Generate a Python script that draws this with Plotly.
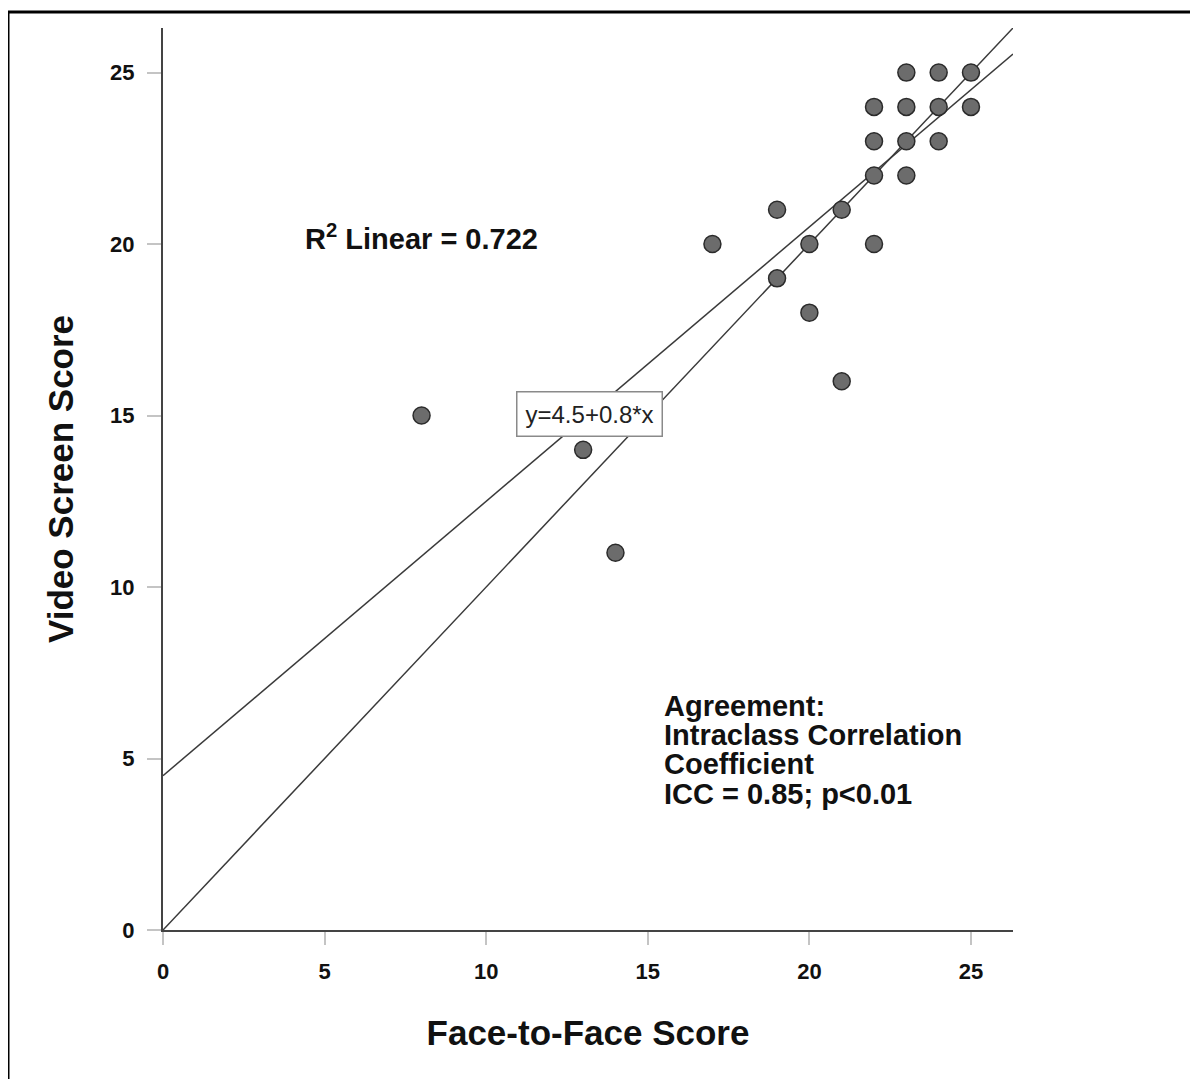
import plotly.graph_objects as go

# Data
face_to_face = [8, 13, 14, 17, 19, 19, 20, 20, 21, 21, 22, 22, 22, 22,
                23, 23, 23, 23, 24, 24, 24, 25, 25]
video_screen = [15, 14, 11, 20, 21, 19, 20, 18, 21, 16, 24, 23, 22, 20,
                25, 24, 23, 22, 25, 24, 23, 25, 24]
fit_intercept = 4.5
fit_slope = 0.8
tick_vals = [0, 5, 10, 15, 20, 25]
tick_labels = ["0", "5", "10", "15", "20", "25"]
agreement_lines = ["Agreement:", "Intraclass Correlation", "Coefficient",
                   "ICC = 0.85; p&lt;0.01"]
axis_max = 26.3

line_x = [0, axis_max]
fit_y = [fit_intercept + fit_slope * v for v in line_x]
ident_y = list(line_x)

FONT = "Liberation Sans, Arial"

fig = go.Figure()
fig.add_trace(go.Scatter(x=line_x, y=fit_y, mode="lines",
                         line=dict(color="#3a3a3a", width=1.5),
                         showlegend=False, hoverinfo="skip"))
fig.add_trace(go.Scatter(x=line_x, y=ident_y, mode="lines",
                         line=dict(color="#3a3a3a", width=1.5),
                         showlegend=False, hoverinfo="skip"))
fig.add_trace(go.Scatter(x=face_to_face, y=video_screen, mode="markers",
                         marker=dict(size=17, color="#6c6c6c",
                                     line=dict(color="#2b2b2b", width=1.5)),
                         showlegend=False))

axis_common = dict(
    range=[0, axis_max], showgrid=False, zeroline=False,
    showline=True, linecolor="#444444", linewidth=2,
    ticks="outside", tickcolor="#c4c4c4", tickwidth=2,
    tickvals=tick_vals, ticktext=tick_labels,
    tickfont=dict(family=FONT, size=22, color="#111111", weight="bold"),
)

annotations = [
    dict(x=4.33, y=20.2, xref="x", yref="y", xanchor="left", yanchor="middle",
         text="<b>R<sup>2</sup> Linear = 0.722</b>", showarrow=False,
         font=dict(family=FONT, size=29, color="#111111")),
    dict(x=13.21, y=15.05, xref="x", yref="y", xanchor="center", yanchor="middle",
         text="y=4.5+0.8*x", showarrow=False,
         font=dict(family=FONT, size=24, color="#222222"),
         bgcolor="white", bordercolor="#8a8a8a", borderwidth=1.5, borderpad=8),
]
for i, line in enumerate(agreement_lines):
    annotations.append(dict(
        x=15.45, y=6.53 - 0.85 * i, xref="x", yref="y",
        xanchor="left", yanchor="middle", showarrow=False,
        text="<b>" + line + "</b>",
        font=dict(family=FONT, size=29, color="#111111")))

fig.update_layout(
    width=1190, height=1071,
    margin=dict(l=155, r=185, t=20, b=149),
    paper_bgcolor="white", plot_bgcolor="white",
    xaxis=dict(**axis_common, ticklen=13, ticklabelstandoff=8,
               title=dict(text="Face-to-Face Score", standoff=37,
                          font=dict(family=FONT, size=35, color="#111111", weight="bold"))),
    yaxis=dict(**axis_common, ticklen=14, ticklabelstandoff=8,
               title=dict(text="Video Screen Score", standoff=26,
                          font=dict(family=FONT, size=35, color="#111111", weight="bold"))),
    annotations=annotations,
    shapes=[
        dict(type="rect", xref="paper", yref="paper",
             x0=(8 - 163) / 850, x1=1.5, y0=-0.5, y1=(930 - 12) / 902,
             line=dict(color="black", width=3), fillcolor="rgba(0,0,0,0)",
             layer="below"),
    ],
)

fig.write_html("out.html")
